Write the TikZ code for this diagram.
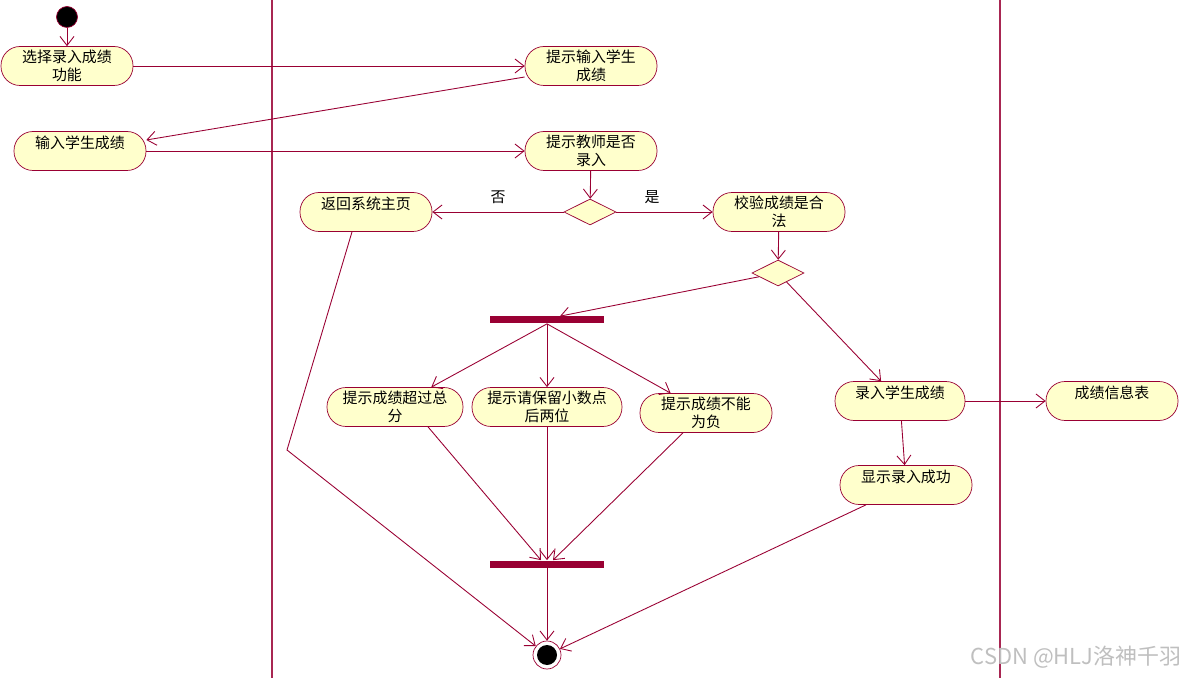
\documentclass[tikz,border=0pt]{standalone}
\usepackage{fontspec}
\setmainfont{Noto Sans CJK SC}
\usetikzlibrary{shapes.geometric,arrows.meta}
\definecolor{rose}{RGB}{153,0,51}
\definecolor{cream}{RGB}{255,255,204}
\newcommand{\lane}[1]{\draw[lanes] (#1,0) --++ (0,678)}
\newcommand{\flow}[2]{\draw[flow] (#1) -- (#2)}

\begin{document}
\begin{tikzpicture}[x=0.02cm,y=-0.02cm,
	lanes/.style={draw=rose!85!white, line width=0.8pt},
	act/.style={draw=rose, fill=cream, rectangle, rounded corners=0.38cm,
		minimum width=2.64cm, minimum height=0.78cm, inner sep=0pt,
		align=center, font=\fontsize{8.5}{10.5}\selectfont},
	choice/.style={draw=rose, fill=cream, diamond, minimum width=1.04cm,
		minimum height=0.52cm, inner sep=0pt},
	syncbar/.style={fill=rose, rectangle, minimum width=2.28cm,
		minimum height=0.14cm, inner sep=0pt},
	flow/.style={draw=rose, line width=0.5pt,
		-{Straight Barb[length=1.8mm,width=2.8mm]}},
	guard/.style={font=\fontsize{8.5}{10}\selectfont}]
\useasboundingbox (0,0) rectangle (1185,678);
%Swimlanes
	\lane{272};
	\lane{1000};
%Start and first lane
	\node[circle, fill=black, draw=rose, minimum size=0.42cm, inner sep=0pt] (start) at (67,17) {};
	\node[act] (choose) at (67,66) {选择录入成绩\\功能};
	\node[act] (input) at (80,151) {输入学生成绩\\\mbox{}};
%Second lane
	\node[act] (askin) at (591,66) {提示输入学生\\成绩};
	\node[act] (askteach) at (591,151) {提示教师是否\\录入};
	\node[choice] (dec1) at (590,212) {};
	\node[act] (home) at (366,212) {返回系统主页\\\mbox{}};
	\node[act] (check) at (779,212) {校验成绩是合\\法};
	\node[choice] (dec2) at (778,273) {};
	\node[syncbar] (fork) at (547,320) {};
	\node[act, minimum width=2.72cm] (over) at (395,407) {提示成绩超过总\\分};
	\node[act, minimum width=3cm] (dec) at (547,407) {提示请保留小数点\\后两位};
	\node[act] (neg) at (706,413) {提示成绩不能\\为负};
	\node[act, minimum width=2.6cm] (save) at (900,401) {录入学生成绩\\\mbox{}};
	\node[act] (done) at (906,485) {显示录入成功\\\mbox{}};
	\node[syncbar] (join) at (547,564) {};
	\node[circle, draw=rose, minimum size=0.56cm, inner sep=0pt,
		path picture={\fill[black] (path picture bounding box.center) circle (0.2cm);}] (stop) at (547,655) {};
%Third lane
	\node[act] (table) at (1112,401) {成绩信息表\\\mbox{}};
%Guards
	\node[guard] (no) at (498,197) {否};
	\node[guard] (yes) at (652,197) {是};
	\coordinate (bend) at (287,450);
%Flows
	\flow{start}{choose};
	\flow{choose}{askin};
	\flow{askin}{input};
	\flow{input}{askteach};
	\flow{askteach}{dec1};
	\flow{dec1}{home};
	\flow{dec1}{check};
	\flow{check}{dec2};
	\flow{dec2}{[xshift=0.26cm]fork.north};
	\flow{dec2}{save};
	\flow{fork.south}{over};
	\flow{fork.south}{dec};
	\flow{fork.south}{neg};
	\flow{[xshift=0.66cm]over.south}{[xshift=-0.12cm]join.north};
	\flow{dec}{join.north};
	\flow{[xshift=-0.46cm]neg.south}{[xshift=0.12cm]join.north};
	\flow{join}{stop};
	\draw[flow] ([xshift=-0.28cm]home.south) -- (bend) -- (stop);
	\flow{save}{done};
	\flow{save}{table};
	\flow{[xshift=-0.8cm]done.south}{stop};
%Watermark
	\node[text=black!25, font=\fontsize{12.5}{14}\selectfont] (mark) at (1076,657) {CSDN @HLJ洛神千羽};
\end{tikzpicture}
\end{document}
